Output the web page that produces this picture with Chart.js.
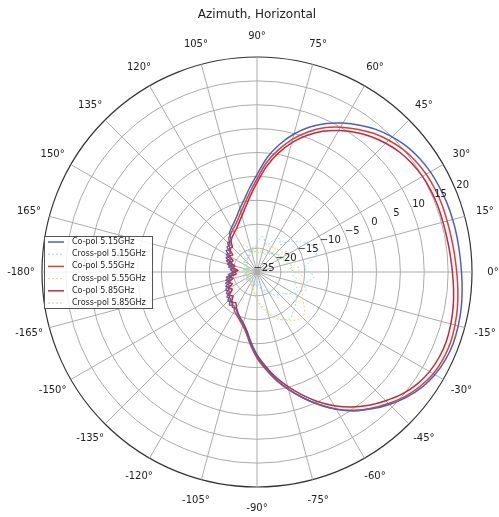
<!DOCTYPE html>
<html>
<head>
<meta charset="utf-8">
<script src="https://cdn.jsdelivr.net/npm/chart.js@4/dist/chart.umd.min.js"></script>
<style>
  html, body { margin: 0; padding: 0; background: #ffffff; }
  #wrap { width: 499px; height: 517px; }
</style>
</head>
<body>
<div id="wrap"><canvas id="c" width="499" height="517"></canvas></div>
<script>
// Angle categories (degrees), clockwise from the top: 90, 85, ... 0 ... -180, 175 ... 95
const ANGLES = [90,85,80,75,70,65,60,55,50,45,40,35,30,25,20,15,10,5,0,-5,-10,-15,-20,-25,-30,-35,-40,-45,-50,-55,-60,-65,-70,-75,-80,-85,-90,-95,-100,-105,-110,-115,-120,-125,-130,-135,-140,-145,-150,-155,-160,-165,-170,-175,-180,175,170,165,160,155,150,145,140,135,130,125,120,115,110,105,100,95];
// Radial tick values (dB)
const R_TICKS = [-25,-20,-15,-10,-5,0,5,10,15,20];
const SERIES_NAMES = ['Co-pol 5.15GHz','Cross-pol 5.15GHz','Co-pol 5.55GHz','Cross-pol 5.55GHz','Co-pol 5.85GHz','Cross-pol 5.85GHz'];
const COPOL_515 = [-4.6,-1.0,2.1,4.9,7.3,9.3,11.0,12.5,13.9,15.0,15.9,16.5,16.9,17.1,17.3,17.4,17.5,17.6,17.8,18.1,18.4,18.6,18.7,18.5,18.0,17.1,15.8,14.2,12.4,10.5,8.2,5.6,3.0,0.4,-2.2,-4.9,-7.4,-10.0,-12.3,-13.8,-14.6,-15.4,-16.2,-16.0,-17.0,-16.4,-17.6,-17.2,-18.4,-17.8,-19.0,-18.3,-19.6,-19.0,-20.2,-19.4,-20.0,-18.6,-19.4,-17.9,-18.4,-17.1,-17.8,-16.3,-16.6,-15.0,-14.3,-13.6,-12.6,-11.2,-9.6,-7.3];
const COPOL_555 = [-5.5,-2.0,1.0,3.8,6.2,8.3,10.0,11.5,12.9,14.0,14.9,15.5,15.9,16.1,16.2,16.2,16.3,16.5,16.8,17.2,17.6,17.9,18.1,18.0,17.6,16.7,15.5,13.9,12.2,10.3,8.1,5.6,3.0,0.5,-2.0,-4.6,-7.0,-9.6,-12.0,-13.4,-14.3,-15.0,-15.6,-16.5,-16.0,-17.2,-16.8,-18.0,-17.4,-18.6,-18.0,-19.2,-18.5,-20.0,-19.8,-20.5,-19.0,-19.6,-18.2,-18.9,-17.6,-18.2,-16.8,-17.0,-15.8,-15.4,-14.8,-14.2,-13.3,-12.0,-10.4,-8.2];
const COPOL_585 = [-6.3,-2.9,0.2,3.0,5.4,7.5,9.2,10.7,12.0,13.1,14.0,14.6,15.0,15.2,15.3,15.3,15.4,15.6,15.9,16.3,16.7,17.0,17.2,17.1,16.7,15.9,14.7,13.1,11.4,9.5,7.3,4.9,2.3,-0.2,-2.7,-5.3,-7.7,-10.3,-12.6,-13.9,-14.8,-15.6,-16.4,-17.2,-16.6,-17.9,-17.3,-18.7,-18.1,-19.3,-18.6,-19.8,-19.1,-20.6,-20.3,-21.0,-19.7,-20.2,-18.8,-19.5,-18.3,-18.8,-17.4,-17.7,-16.5,-16.0,-15.5,-14.9,-14.0,-12.8,-11.2,-9.0];
const XPOL_515 = [-19.0,-18.0,-17.5,-18.5,-19.0,-18.0,-17.0,-16.5,-17.5,-16.0,-15.0,-14.0,-13.0,-12.0,-11.5,-12.5,-14.0,-15.0,-14.0,-13.0,-14.0,-15.0,-14.0,-15.5,-16.0,-17.0,-18.0,-19.0,-18.0,-19.5,-20.0,-21.0,-20.5,-22.0,-21.5,-22.5,-22.0,-23.0,-22.0,-23.5,-22.5,-23.0,-22.0,-23.5,-22.5,-23.0,-22.0,-23.5,-22.5,-23.0,-22.0,-23.5,-22.5,-23.0,-22.5,-23.5,-22.0,-23.0,-22.5,-23.5,-22.0,-22.5,-21.5,-22.5,-21.0,-22.0,-20.5,-21.5,-20.0,-21.0,-19.5,-20.0];
const XPOL_555 = [-21.0,-20.0,-20.5,-19.5,-20.0,-19.0,-19.5,-18.5,-19.0,-18.0,-18.5,-17.5,-18.0,-17.0,-17.5,-16.5,-17.0,-16.0,-16.5,-15.5,-16.0,-15.0,-15.5,-14.5,-14.0,-13.0,-12.0,-11.5,-12.0,-12.5,-13.5,-14.5,-15.5,-16.5,-17.5,-18.5,-19.5,-20.5,-21.0,-22.0,-21.5,-22.5,-22.0,-23.0,-22.0,-23.5,-22.5,-23.0,-22.0,-23.5,-22.5,-23.0,-22.0,-23.5,-22.5,-23.0,-22.0,-23.5,-22.5,-23.0,-22.0,-22.5,-21.5,-22.0,-21.0,-21.5,-20.5,-21.5,-20.5,-21.0,-20.0,-20.5];
const XPOL_585 = [-20.0,-21.0,-20.5,-21.5,-20.5,-21.0,-20.0,-20.5,-19.5,-20.0,-19.0,-19.5,-18.5,-19.0,-18.0,-18.5,-17.5,-18.0,-17.0,-17.5,-16.5,-17.0,-16.0,-16.5,-15.5,-15.0,-14.5,-14.0,-13.5,-13.0,-13.5,-14.0,-15.0,-16.0,-17.0,-18.0,-19.0,-20.0,-21.0,-21.5,-22.5,-22.0,-23.0,-22.5,-23.5,-22.5,-23.0,-22.0,-23.5,-22.5,-23.0,-22.0,-23.5,-22.5,-23.0,-22.0,-23.5,-22.5,-23.0,-22.0,-22.5,-21.5,-22.0,-20.5,-19.5,-18.5,-18.0,-19.0,-19.5,-20.5,-20.0,-21.0];
const SERIES_DATA = [COPOL_515, XPOL_515, COPOL_555, XPOL_555, COPOL_585, XPOL_585];
const SERIES_COLORS = ['#4b62b8','#9fd0ea','#e03c3c','#f0d68a','#c4283a','#a9dca3'];
const SERIES_WIDTHS = [1.5, 1, 1.5, 1, 1.5, 1];
const SERIES_DASH = [[], [2,2], [], [2,2], [], [2,2]];
const TICK_LABEL_ANGLE = 22.5;
const ANGLE_LABEL_OFFSET = 21;
const FONT = "'DejaVu Sans', sans-serif";
const GRID = '#ababab';

// radial tick labels, laid along the 22.5 degree direction (upright text)
const tickLabelPlugin = {
  id: 'tickLabels',
  afterDatasetsDraw(chart) {
    const s = chart.scales.r;
    const ctx = chart.ctx;
    const th = TICK_LABEL_ANGLE * Math.PI / 180;
    ctx.save();
    ctx.font = '10px ' + FONT;
    ctx.fillStyle = '#222';
    ctx.textAlign = 'center';
    ctx.textBaseline = 'middle';
    s.ticks.forEach(t => {
      const d = s.getDistanceFromCenterForValue(t.value);
      ctx.fillText(String(t.value).replace('-', '\u2212'), s.xCenter + d * Math.cos(th) + 7, s.yCenter - d * Math.sin(th) - 4);
    });
    ctx.restore();
  }
};

// angle labels every 15 degrees, centred at a fixed distance outside the rim
const angleLabelPlugin = {
  id: 'angleLabels',
  afterDraw(chart) {
    const s = chart.scales.r;
    const ctx = chart.ctx;
    ctx.save();
    ctx.font = '10px ' + FONT;
    ctx.fillStyle = '#222';
    ctx.textAlign = 'center';
    ctx.textBaseline = 'middle';
    ANGLES.forEach((a, i) => {
      if (a % 15 !== 0) return;
      const p = s.getPointPosition(i, s.drawingArea + ANGLE_LABEL_OFFSET);
      ctx.fillText(a + '\u00b0', p.x, p.y);
    });
    ctx.restore();
  }
};

// keep the Chart.js title centred over the polar axes
const titleCenterPlugin = {
  id: 'titleCenter',
  afterLayout(chart) {
    const s = chart.scales.r, tb = chart.titleBlock;
    if (!s || !tb) return;
    const d = s.xCenter - (tb.left + tb.right) / 2;
    tb.left += d; tb.right += d;
  }
};

const legendPlugin = {
  id: 'boxLegend',
  afterDraw(chart) {
    const ctx = chart.ctx;
    const x0 = 44, y0 = 236, w = 108, h = 72;
    ctx.save();
    ctx.fillStyle = 'rgba(255,255,255,0.85)';
    ctx.strokeStyle = '#555';
    ctx.lineWidth = 1;
    ctx.fillRect(x0, y0, w, h);
    ctx.strokeRect(x0 + 0.5, y0 + 0.5, w, h);
    ctx.font = '8px ' + FONT;
    ctx.textBaseline = 'middle';
    ctx.textAlign = 'left';
    chart.data.datasets.forEach((ds, i) => {
      const y = y0 + 6 + i * 12.2;
      ctx.strokeStyle = ds.borderColor;
      ctx.lineWidth = ds.borderWidth;
      ctx.setLineDash(ds.borderDash || []);
      ctx.beginPath(); ctx.moveTo(48, y); ctx.lineTo(64, y); ctx.stroke();
      ctx.setLineDash([]);
      ctx.fillStyle = '#222';
      ctx.fillText(ds.label, 72, y);
    });
    ctx.restore();
  }
};

const datasets = SERIES_NAMES.map((name, i) => ({
  label: name, data: SERIES_DATA[i], borderColor: SERIES_COLORS[i], backgroundColor: 'transparent',
  borderWidth: SERIES_WIDTHS[i], borderDash: SERIES_DASH[i], fill: false, pointRadius: 0, tension: 0.25
}));

new Chart(document.getElementById('c'), {
  type: 'radar',
  data: { labels: ANGLES, datasets: datasets },
  options: {
    responsive: false,
    animation: false,
    layout: { padding: { left: 42, right: 26, top: 0, bottom: 29 } },
    plugins: {
      legend: { display: false },
      tooltip: { enabled: false },
      title: { display: true, text: 'Azimuth, Horizontal', color: '#222', font: { family: FONT, size: 12, weight: 'normal' }, padding: { top: 8, bottom: 34.6 } }
    },
    scales: {
      r: {
        min: R_TICKS[0], max: R_TICKS[R_TICKS.length - 1], startAngle: 0,
        ticks: { stepSize: 5, display: false },
        grid: {
          circular: true,
          color: c => (c.tick && c.tick.value === R_TICKS[R_TICKS.length - 1]) ? '#333' : GRID,
          lineWidth: c => (c.tick && c.tick.value === R_TICKS[R_TICKS.length - 1]) ? 1.2 : 1
        },
        angleLines: { display: true, color: GRID, lineWidth: c => (ANGLES[c.index] % 15 === 0) ? 1 : 0 },
        pointLabels: { display: false }
      }
    }
  },
  plugins: [tickLabelPlugin, angleLabelPlugin, titleCenterPlugin, legendPlugin]
});
</script>
</body>
</html>
